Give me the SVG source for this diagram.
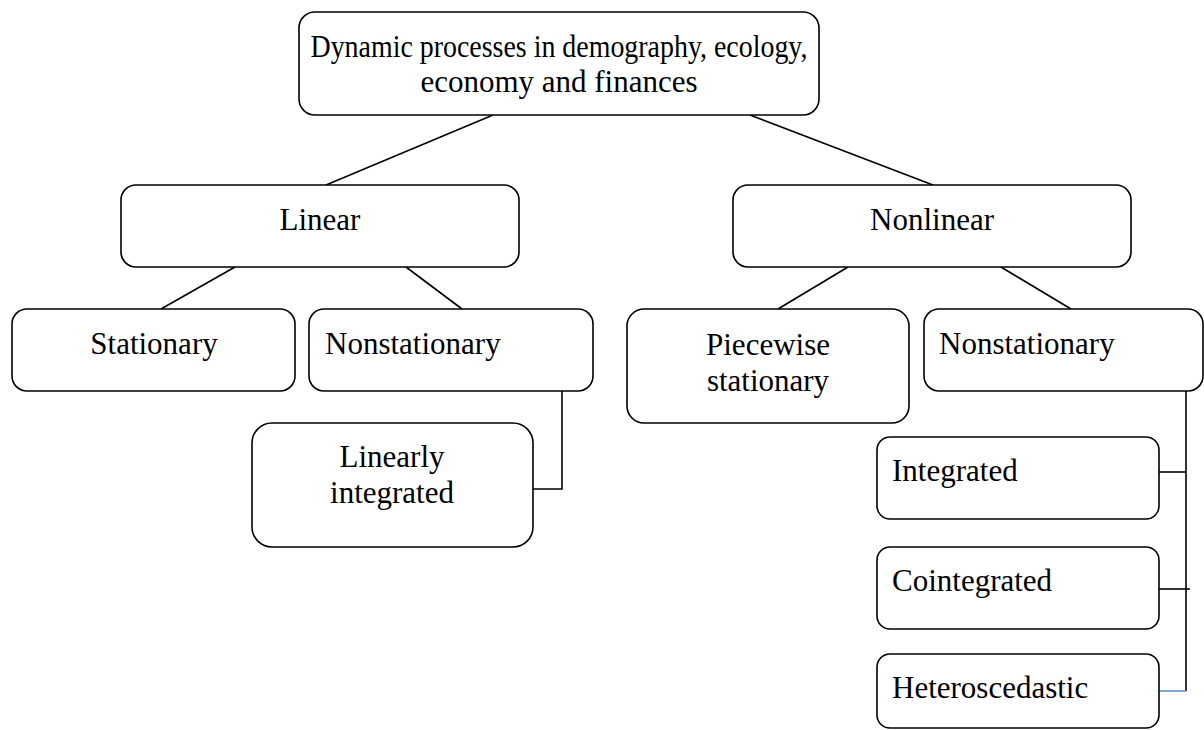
<svg xmlns="http://www.w3.org/2000/svg" width="1204" height="730" viewBox="0 0 1204 730">
  <style>
    .box { fill: #ffffff; stroke: #000000; stroke-width: 1.6; }
    .link { fill: none; stroke: #000000; stroke-width: 1.6; }
    .link-blue { fill: none; stroke: #5b8fd0; stroke-width: 1.6; }
    text { font-family: "Liberation Serif", "Times New Roman", serif; font-size: 31px; fill: #000000; }
    .mid { text-anchor: middle; }
  </style>
  <rect width="1204" height="730" fill="#ffffff"/>

  <!-- connectors -->
  <g id="connectors">
    <line class="link" x1="493" y1="115" x2="326" y2="185"/>
    <line class="link" x1="750" y1="115" x2="933" y2="185"/>
    <line class="link" x1="235" y1="267" x2="161" y2="309"/>
    <line class="link" x1="406" y1="267" x2="462" y2="309"/>
    <line class="link" x1="848" y1="267" x2="778" y2="309"/>
    <line class="link" x1="1001" y1="267" x2="1071" y2="309"/>
    <polyline class="link" points="562,391 562,489 533,489"/>
    <line class="link" x1="1186" y1="391" x2="1186" y2="691"/>
    <line class="link" x1="1159" y1="472" x2="1186" y2="472"/>
    <line class="link" x1="1159" y1="589" x2="1190" y2="589"/>
    <line class="link-blue" x1="1159" y1="691" x2="1186" y2="691"/>
  </g>

  <g id="root">
    <rect class="box" x="299" y="12" width="520" height="103" rx="16"/>
    <text class="mid" x="559" y="57" textLength="497" lengthAdjust="spacingAndGlyphs">Dynamic processes in demography, ecology,</text>
    <text class="mid" x="559" y="92">economy and finances</text>
  </g>

  <g id="linear">
    <rect class="box" x="121" y="185" width="398" height="82" rx="15"/>
    <text class="mid" x="320" y="230">Linear</text>
  </g>

  <g id="nonlinear">
    <rect class="box" x="733" y="185" width="398" height="82" rx="15"/>
    <text class="mid" x="932" y="230">Nonlinear</text>
  </g>

  <g id="stationary">
    <rect class="box" x="12" y="309" width="283" height="82" rx="15"/>
    <text class="mid" x="154" y="354">Stationary</text>
  </g>

  <g id="nonstationary-linear">
    <rect class="box" x="309" y="309" width="284" height="82" rx="15"/>
    <text x="325" y="354">Nonstationary</text>
  </g>

  <g id="linearly-integrated">
    <rect class="box" x="252" y="423" width="281" height="124" rx="20"/>
    <text class="mid" x="392" y="467">Linearly</text>
    <text class="mid" x="392" y="503">integrated</text>
  </g>

  <g id="piecewise-stationary">
    <rect class="box" x="627" y="309" width="282" height="114" rx="17"/>
    <text class="mid" x="768" y="355">Piecewise</text>
    <text class="mid" x="768" y="391">stationary</text>
  </g>

  <g id="nonstationary-nonlinear">
    <rect class="box" x="924" y="309" width="279" height="82" rx="15"/>
    <text x="939" y="354">Nonstationary</text>
  </g>

  <g id="integrated">
    <rect class="box" x="877" y="437" width="282" height="82" rx="13"/>
    <text x="892" y="481">Integrated</text>
  </g>

  <g id="cointegrated">
    <rect class="box" x="877" y="547" width="282" height="82" rx="13"/>
    <text x="892" y="591">Cointegrated</text>
  </g>

  <g id="heteroscedastic">
    <rect class="box" x="877" y="654" width="282" height="74" rx="13"/>
    <text x="892" y="698">Heteroscedastic</text>
  </g>
</svg>
